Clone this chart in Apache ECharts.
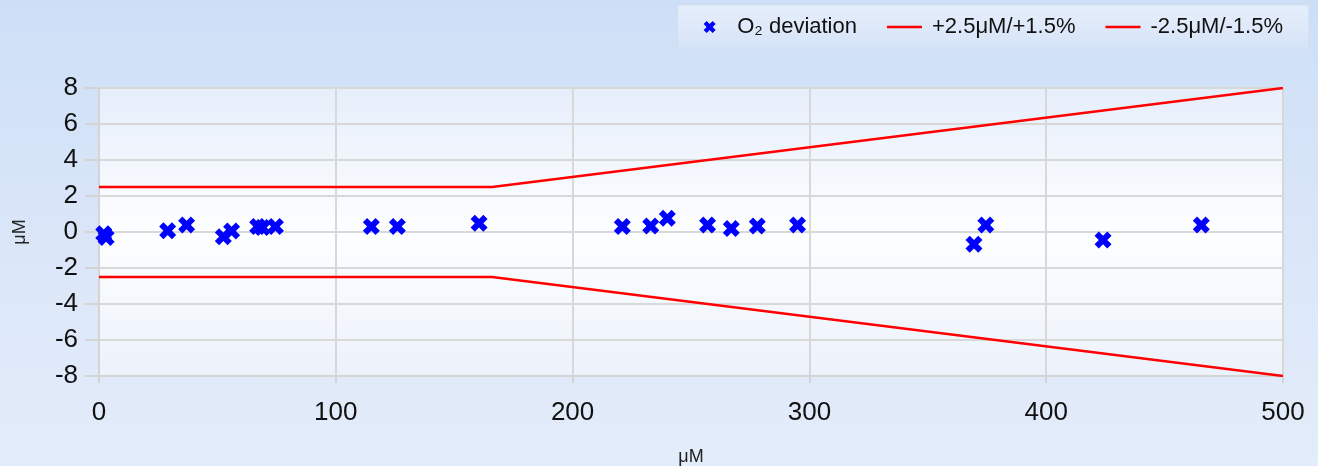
<!DOCTYPE html>
<html>
<head>
<meta charset="utf-8">
<script src="https://cdn.jsdelivr.net/npm/echarts@6/dist/echarts.min.js"></script>
<style>
  html, body { margin: 0; padding: 0; }
  #chart {
    width: 1318px;
    height: 466px;
    background: linear-gradient(180deg, #cddff7 0%, #dae6f8 50%, #e3ecfa 100%);
  }
</style>
</head>
<body>
<div id="chart"></div>
<script>
// O2 deviation points (x = concentration µM, y = deviation µM)
const devX = [2, 3, 29, 37, 52.5, 56, 67, 69, 74.5, 115, 126, 160.5, 221, 233, 240, 257, 267, 278, 295, 369.5, 374.5, 424, 465.5]
const devY = [-0.1, -0.3, 0.07, 0.39, -0.26, 0.05, 0.3, 0.25, 0.3, 0.3, 0.3, 0.48, 0.3, 0.33, 0.76, 0.39, 0.2, 0.33, 0.39, -0.68, 0.39, -0.44, 0.39]

// tolerance band
const limitX = [0, 166, 500]
const upperY = [2.5, 2.5, 8]
const lowerY = [-2.5, -2.5, -8]

const yTicks = [-8, -6, -4, -2, 0, 2, 4, 6, 8]
const xTicks = [0, 100, 200, 300, 400, 500]

const crossPath = 'path://M0,2.5 L2.5,0 L5,2.5 L7.5,0 L10,2.5 L7.5,5 L10,7.5 L7.5,10 L5,7.5 L2.5,10 L0,7.5 L2.5,5 Z'
const linePath = 'path://M0,0 L35,0 L35,2.5 L0,2.5 Z'
const font = '"Liberation Sans", Arial, sans-serif'

const chart = echarts.init(document.getElementById('chart'))
chart.setOption({
  animation: false,
  textStyle: { fontFamily: font },
  legend: {
    right: 9,
    top: 5,
    padding: [11, 26, 11, 26],
    itemGap: 30,
    itemWidth: 35,
    itemHeight: 12,
    backgroundColor: new echarts.graphic.LinearGradient(0, 0, 0, 1, [
      { offset: 0, color: '#e6eefb' },
      { offset: 1, color: '#d6e4f8' }
    ]),
    borderColor: '#d0dcee',
    borderWidth: 1,
    textStyle: { fontSize: 22, color: '#111', fontFamily: font, padding: [0, 0, 0, 5] },
    data: [
      { name: 'O₂ deviation', icon: crossPath, itemStyle: { color: '#0000ff' } },
      { name: '+2.5μM/+1.5%', icon: linePath, itemStyle: { color: '#ff0000' } },
      { name: '-2.5μM/-1.5%', icon: linePath, itemStyle: { color: '#ff0000' } }
    ]
  },
  grid: {
    left: 99,
    right: 35,
    top: 88,
    bottom: 90,
    outerBoundsMode: 'none',
    show: true,
    borderColor: '#dcdcdc',
    borderWidth: 2,
    backgroundColor: new echarts.graphic.LinearGradient(0, 0, 0, 1, [
      { offset: 0, color: '#e6eefb' },
      { offset: 0.5, color: '#fdfeff' },
      { offset: 1, color: '#ecf2fb' }
    ])
  },
  xAxis: {
    type: 'value',
    min: 0,
    max: 500,
    interval: 100,
    name: 'μM',
    nameLocation: 'middle',
    nameGap: 72,
    nameTextStyle: { fontSize: 18, color: '#222' },
    axisLine: { show: true, onZero: false, lineStyle: { color: '#d4d4d4', width: 2 } },
    axisTick: { show: true, length: 7, lineStyle: { color: '#d4d4d4', width: 2 } },
    axisLabel: {
      fontSize: 26,
      color: '#111',
      margin: 24,
      formatter: v => (xTicks.includes(v) ? String(v) : '')
    },
    splitLine: { show: true, lineStyle: { color: '#d8d8d8', width: 2 } }
  },
  yAxis: {
    type: 'value',
    min: -8,
    max: 8,
    interval: 2,
    name: 'μM',
    nameLocation: 'middle',
    nameGap: 70,
    nameTextStyle: { fontSize: 18, color: '#222' },
    axisLine: { show: true, lineStyle: { color: '#d4d4d4', width: 2 } },
    axisTick: { show: true, length: 14, lineStyle: { color: '#d4d4d4', width: 2 } },
    axisLabel: {
      fontSize: 26,
      color: '#111',
      margin: 21,
      formatter: v => (yTicks.includes(v) ? String(v) : '')
    },
    splitLine: { show: true, lineStyle: { color: '#d8d8d8', width: 2 } }
  },
  series: [
    {
      name: '+2.5μM/+1.5%',
      type: 'line',
      symbol: 'none',
      color: '#ff0000',
      lineStyle: { color: '#ff0000', width: 2.5 },
      data: limitX.map((x, i) => [x, upperY[i]]),
      z: 3
    },
    {
      name: '-2.5μM/-1.5%',
      type: 'line',
      symbol: 'none',
      color: '#ff0000',
      lineStyle: { color: '#ff0000', width: 2.5 },
      data: limitX.map((x, i) => [x, lowerY[i]]),
      z: 3
    },
    {
      name: 'O₂ deviation',
      type: 'scatter',
      symbol: crossPath,
      symbolSize: 17,
      itemStyle: { color: '#0000ff', opacity: 1 },
      data: devX.map((x, i) => [x, devY[i]]),
      z: 4
    }
  ]
})
</script>
</body>
</html>
